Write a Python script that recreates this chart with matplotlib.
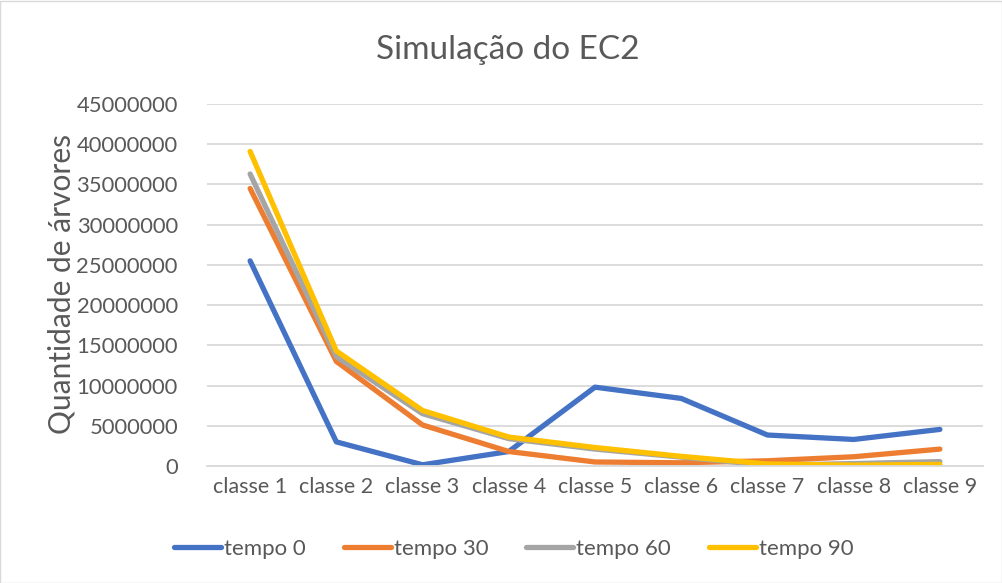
import matplotlib
matplotlib.use("Agg")
import matplotlib.pyplot as plt
from matplotlib.patches import Rectangle

categories = ["classe 1", "classe 2", "classe 3", "classe 4", "classe 5",
              "classe 6", "classe 7", "classe 8", "classe 9"]
tempo_0 = [25500000, 3000000, 150000, 1800000, 9800000, 8400000, 3850000, 3300000, 4550000]
tempo_30 = [34500000, 13000000, 5100000, 1800000, 500000, 400000, 650000, 1150000, 2100000]
tempo_60 = [36300000, 13600000, 6500000, 3400000, 2100000, 1100000, 100000, 300000, 550000]
tempo_90 = [39100000, 14300000, 6900000, 3600000, 2300000, 1200000, 250000, 100000, 200000]
series_names = ["tempo 0", "tempo 30", "tempo 60", "tempo 90"]
yticks = list(range(0, 45000001, 5000000))

colors = ["#4472C4", "#ED7D31", "#A5A5A5", "#FFC000"]
txt = "#595959"
font = ["Lato", "DejaVu Sans"]

W, H = 1003, 583
fig = plt.figure(figsize=(W / 100, H / 100), dpi=100)
fig.patch.set_facecolor("white")
ax = fig.add_axes([207 / W, 1 - 466 / H, (983 - 207) / W, (466 - 104) / H])

x = list(range(len(categories)))
for vals, c, name in zip([tempo_0, tempo_30, tempo_60, tempo_90], colors, series_names):
    ax.plot(x, vals, color=c, lw=3.8, label=name, solid_capstyle="round",
            solid_joinstyle="round")

ax.set_xlim(-0.5, len(categories) - 0.5)
ax.set_ylim(0, 45000000)
ax.set_yticks(yticks)
ax.set_yticklabels([str(v) for v in yticks], fontsize=15.8, color=txt, family=font)
ax.set_xticks(x)
ax.set_xticklabels(categories, fontsize=15.5, color=txt, family=font)
ax.tick_params(length=0, pad=8)
ax.tick_params(axis="y", pad=21)
ax.grid(axis="y", color="#D9D9D9", lw=1.3)
ax.set_axisbelow(True)
for s in ["top", "right", "left"]:
    ax.spines[s].set_visible(False)
ax.spines["bottom"].set_color("#D9D9D9")
ax.spines["bottom"].set_linewidth(1.3)

fig.text(62 / W, 1 - 284 / H, "Quantidade de árvores", rotation=90, fontsize=21.5,
         color=txt, family=font, ha="center", va="center")
fig.text(508 / W, 1 - 50 / H, "Simulação do EC2", fontsize=24, color=txt,
         family=font, ha="center", va="center")

leg = fig.legend(loc="center", bbox_to_anchor=(514 / W, 1 - 549 / H), ncol=4,
                 frameon=False, prop={"family": font, "size": 16},
                 handlelength=2.1, handletextpad=0.15, columnspacing=1.7)
for t in leg.get_texts():
    t.set_color(txt)

fig.add_artist(Rectangle((0.5 / W, 0.5 / H), 1 - 1.5 / W, 1 - 1.5 / H,
                         transform=fig.transFigure, fill=False,
                         edgecolor="#D9D9D9", lw=1))

fig.savefig("out.png", dpi=100, facecolor="white")
